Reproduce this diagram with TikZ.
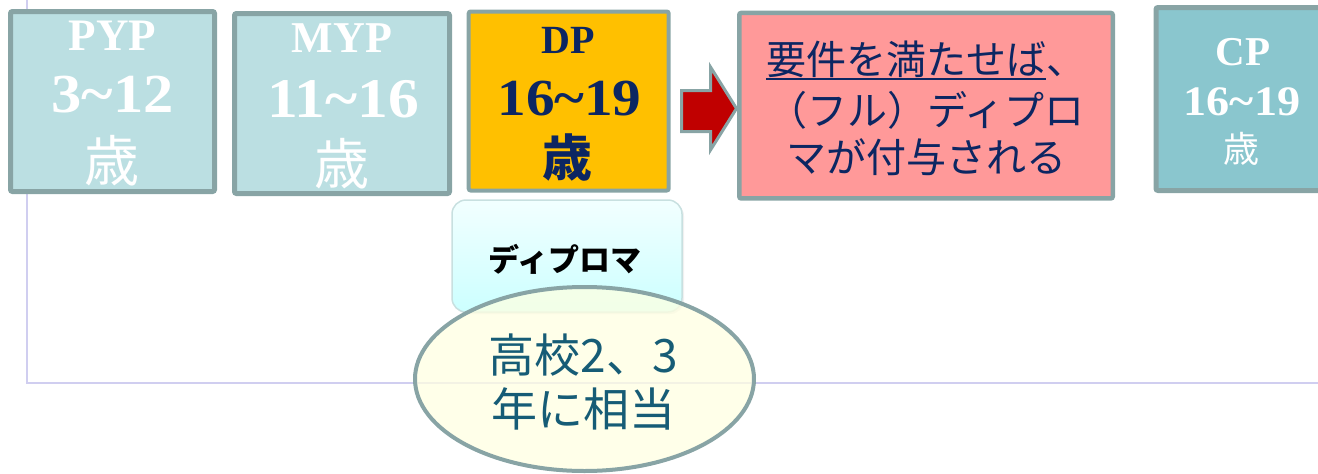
\documentclass[tikz,border=0pt]{standalone}
\usepackage{fontspec}
\setmainfont{Liberation Serif}
\newfontfamily\numfont{Liberation Serif}[FakeStretch=1.1]
\newfontfamily\jp{Noto Sans CJK JP}
\usetikzlibrary{shapes.geometric,shadows}
\definecolor{edgegray}{RGB}{136,164,165}
\definecolor{paleteal}{RGB}{187,223,226}
\definecolor{cpteal}{RGB}{138,198,206}
\definecolor{dpgold}{RGB}{255,192,0}
\definecolor{navy}{RGB}{12,38,98}
\definecolor{pinkfill}{RGB}{255,153,153}
\definecolor{arrowred}{RGB}{192,0,0}
\definecolor{frameline}{RGB}{208,206,240}
\definecolor{ovalfill}{RGB}{255,255,225}
\definecolor{ovaltext}{RGB}{22,92,118}
\definecolor{diptop}{RGB}{242,255,255}
\definecolor{dipbot}{RGB}{204,255,255}
\definecolor{dipedge}{RGB}{200,224,224}
\newcommand\fs[1]{\fontsize{#1}{#1}\selectfont}
\newcommand\undr[1]{\setbox0\hbox{#1}\rlap{\rule[-6pt]{\wd0}{2pt}}\box0}
\tikzset{
  agebox/.style={draw=edgegray,line width=5,rounded corners=2,inner sep=0},
  txt/.style={anchor=base,inner sep=0},
}

\begin{document}
\begin{tikzpicture}[x=1pt,y=-1pt]
\useasboundingbox (0,0) rectangle (1318,474);
\draw[frameline,line width=1.5] (27,0) -- (27,383) -- (1318,383);
% programme boxes
\node[agebox,fill=paleteal,minimum width=204,minimum height=180] (pyp) at (112.5,101.5) {};
\node[agebox,fill=paleteal,minimum width=215,minimum height=180] (myp) at (342,103.5) {};
\node[agebox,fill=dpgold,line width=4,minimum width=200,minimum height=179] (dp) at (568.7,101) {};
\node[agebox,fill=pinkfill,line width=4.5,minimum width=373.5,minimum height=185.5] (cond) at (926,105.7) {};
\node[agebox,fill=cpteal,minimum width=174,minimum height=183] (cp) at (1243,99) {};
\draw[fill=arrowred,draw=edgegray,line width=3] (681.5,90.5) -- (710.5,90.5) -- (710.5,67) -- (736.5,108.5) -- (710.5,150) -- (710.5,131.5) -- (681.5,131.5) -- cycle;
\node[txt,text=white] (pypA) at (112.5,50) {\bfseries\fs{45}PYP};
\node[txt,text=white] (pypB) at (112.5,112) {\numfont\bfseries\fs{55}3\textasciitilde12};
\node[txt,text=white] (pypC) at (112,181) {\jp\fs{55}歳};
\node[txt,text=white] (mypA) at (342,52) {\bfseries\fs{44}MYP};
\node[txt,text=white] (mypB) at (343,117) {\numfont\bfseries\fs{56}11\textasciitilde16};
\node[txt,text=white] (mypC) at (342,184) {\jp\fs{55}歳};
\node[txt,text=navy] (dpA) at (568,53) {\bfseries\fs{40}DP};
\node[txt,text=navy] (dpB) at (569.5,115) {\numfont\bfseries\fs{52}16\textasciitilde19};
\node[txt,text=navy] (dpC) at (567,176) {\jp\bfseries\fs{50}歳};
\node[txt,text=navy] (condA) at (926,74) {\jp\fs{40}\undr{要件を満たせば}、};
\node[txt,text=navy] (condB) at (926,125) {\jp\fs{40}（フル）ディプロ};
\node[txt,text=navy] (condC) at (926,172) {\jp\fs{40}マが付与される};
\node[txt,text=white] (cpA) at (1243,65) {\bfseries\fs{41}CP};
\node[txt,text=white] (cpB) at (1242,115) {\numfont\bfseries\fs{42}16\textasciitilde19};
\node[txt,text=white] (cpC) at (1241,162) {\jp\fs{36}歳};
% diploma and high school note
\node[draw=dipedge,line width=1.5,rounded corners=14,top color=diptop,bottom color=dipbot,minimum width=230,minimum height=112,drop shadow={opacity=0.12,shadow xshift=2pt,shadow yshift=-2pt}] (dip) at (567,256) {};
\node[txt] (dipA) at (565,271) {\jp\bfseries\fs{31}ディプロマ};
\node[ellipse,draw=edgegray,line width=4,fill=ovalfill,fill opacity=0.75,minimum width=339,minimum height=184,inner sep=0] (oval) at (584.5,379) {};
\node[txt,text=ovaltext] (ovalA) at (583,372) {\jp\fs{46}高校2、3};
\node[txt,text=ovaltext] (ovalB) at (583,426) {\jp\fs{46}年に相当};
\end{tikzpicture}
\end{document}
